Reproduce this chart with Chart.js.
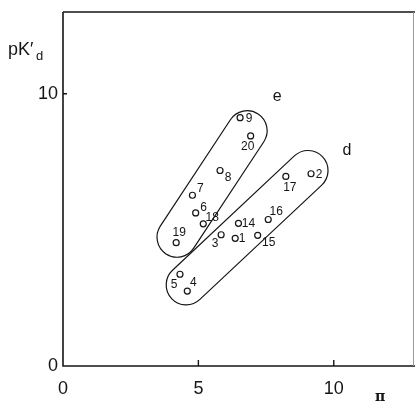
<!DOCTYPE html>
<html>
<head>
<meta charset="utf-8">
<script src="https://cdn.jsdelivr.net/npm/chart.js@4.4.0/dist/chart.umd.min.js"></script>
<style>
html, body { margin: 0; padding: 0; background: #fff; }
#wrap { width: 415px; height: 405px; }
</style>
</head>
<body>
<div id="wrap"><canvas id="c" width="415" height="405"></canvas></div>
<script>
// compound numbers and their (pi, pK'd) values
var compounds = ['1', '2', '3', '4', '5', '6', '7', '8', '9', '14', '15', '16', '17', '18', '19', '20'];
var piValues  = [6.36, 9.16, 5.84, 4.59, 4.32, 4.90, 4.78, 5.80, 6.54, 6.48, 7.19, 7.58, 8.23, 5.18, 4.18, 6.93];
var pkdValues = [4.69, 7.06, 4.82, 2.75, 3.37, 5.62, 6.27, 7.18, 9.12, 5.24, 4.80, 5.38, 6.96, 5.22, 4.53, 8.45];

// the two enclosed groups (capsule end centres, in data units)
var groupNames   = ['e', 'd'];
var groupStart   = [[4.21, 4.73], [4.55, 2.98]];
var groupEnd     = [[6.80, 8.64], [9.05, 7.18]];
var groupLabelAt = [[7.91, 9.88], [10.49, 7.91]];

var xTicks = [0, 5, 10];
var yTicks = [0, 10];

// where each number sits next to its circle (px)
var labelOffset = {
    '1': [7, 0], '2': [8, 1], '3': [-6, 9], '4': [6, -8], '5': [-6, 10],
    '6': [8, -5], '7': [8, -7], '8': [8, 7], '9': [9, 1], '14': [10, 0],
    '15': [11, 7], '16': [8, -8], '17': [4, 11], '18': [9, -6], '19': [3, -10],
    '20': [-3, 11]
};

var ink = '#151515';
var FONT = '"Liberation Sans", Arial, sans-serif';

var points = [];
for (var i = 0; i < compounds.length; i++) {
    points.push({ x: piValues[i], y: pkdValues[i] });
}

function capsule(ctx, ax, ay, bx, by, r) {
    var t = Math.atan2(by - ay, bx - ax);
    ctx.beginPath();
    ctx.arc(bx, by, r, t - Math.PI / 2, t + Math.PI / 2);
    ctx.arc(ax, ay, r, t + Math.PI / 2, t + 3 * Math.PI / 2);
    ctx.closePath();
    ctx.stroke();
}

function noPad(scale) {
    scale.paddingLeft = 0;
    scale.paddingRight = 0;
    scale.paddingTop = 0;
    scale.paddingBottom = 0;
}

var decor = {
    id: 'decor',
    beforeDatasetsDraw: function(chart) {
        var ctx = chart.ctx, a = chart.chartArea;
        var xs = chart.scales.x, ys = chart.scales.y;
        ctx.save();
        ctx.strokeStyle = ink;
        ctx.lineWidth = 1.6;
        // frame
        ctx.beginPath();
        ctx.moveTo(a.left, a.top);
        ctx.lineTo(a.left, a.bottom);
        ctx.lineTo(a.right, a.bottom);
        ctx.moveTo(a.left, a.top);
        ctx.lineTo(a.right, a.top);
        ctx.stroke();
        ctx.strokeStyle = '#999';
        ctx.lineWidth = 1;
        ctx.beginPath();
        ctx.moveTo(a.right - 1.5, a.top);
        ctx.lineTo(a.right - 1.5, a.bottom);
        ctx.stroke();
        // inward tick marks
        ctx.strokeStyle = ink;
        ctx.lineWidth = 1.4;
        ctx.beginPath();
        xTicks.forEach(function(v) {
            if (v === 0) return;
            var px = xs.getPixelForValue(v);
            ctx.moveTo(px, a.bottom);
            ctx.lineTo(px, a.bottom - 6);
        });
        yTicks.forEach(function(v) {
            if (v === 0) return;
            var py = ys.getPixelForValue(v);
            ctx.moveTo(a.left, py);
            ctx.lineTo(a.left + 4, py);
        });
        ctx.stroke();
        // group capsules
        ctx.lineWidth = 1.2;
        var radius = 20;
        for (var g = 0; g < groupNames.length; g++) {
            capsule(ctx,
                xs.getPixelForValue(groupStart[g][0]), ys.getPixelForValue(groupStart[g][1]),
                xs.getPixelForValue(groupEnd[g][0]), ys.getPixelForValue(groupEnd[g][1]),
                radius);
        }
        ctx.restore();
    },
    afterDatasetsDraw: function(chart) {
        var ctx = chart.ctx;
        var xs = chart.scales.x, ys = chart.scales.y;
        var meta = chart.getDatasetMeta(0);
        ctx.save();
        ctx.fillStyle = ink;
        ctx.textAlign = 'center';
        ctx.textBaseline = 'middle';
        ctx.font = '12px ' + FONT;
        meta.data.forEach(function(el, i) {
            var off = labelOffset[compounds[i]] || [8, 0];
            ctx.fillText(compounds[i], el.x + off[0], el.y + off[1]);
        });
        ctx.font = '16px ' + FONT;
        for (var g = 0; g < groupNames.length; g++) {
            ctx.fillText(groupNames[g],
                xs.getPixelForValue(groupLabelAt[g][0]), ys.getPixelForValue(groupLabelAt[g][1]));
        }
        ctx.restore();
    },
    afterDraw: function(chart) {
        var ctx = chart.ctx;
        ctx.save();
        ctx.fillStyle = ink;
        ctx.textBaseline = 'alphabetic';
        ctx.textAlign = 'left';
        // y axis title pK'd
        ctx.font = '18px ' + FONT;
        ctx.fillText('pK\u2032', 8, 55);
        ctx.font = '13px ' + FONT;
        ctx.fillText('d', 36, 60);
        // x axis title pi
        ctx.font = 'bold 14px "DejaVu Serif", serif';
        ctx.textAlign = 'center';
        ctx.fillText('\u03c0', 380, 401);
        ctx.restore();
    }
};

var ctx = document.getElementById('c').getContext('2d');
var myChart = new Chart(ctx, {
    type: 'scatter',
    data: {
        datasets: [{
            label: 'compounds',
            data: points,
            pointStyle: 'circle',
            pointRadius: 3,
            pointHoverRadius: 3,
            pointBorderWidth: 1.2,
            pointBorderColor: ink,
            pointBackgroundColor: '#fff'
        }]
    },
    options: {
        responsive: false,
        animation: false,
        events: [],
        layout: { autoPadding: false, padding: { top: 12, right: 0, left: 0, bottom: 0 } },
        plugins: {
            legend: { display: false },
            tooltip: { enabled: false }
        },
        scales: {
            x: {
                type: 'linear',
                min: 0,
                max: 13,
                afterBuildTicks: function(scale) {
                    scale.ticks = xTicks.map(function(v) { return { value: v }; });
                },
                afterFit: function(scale) { scale.height = 39; noPad(scale); },
                grid: { display: false, drawTicks: false },
                border: { display: false },
                ticks: { color: ink, padding: 12, maxRotation: 0, font: { size: 18, family: FONT } }
            },
            y: {
                type: 'linear',
                min: 0,
                max: 13,
                afterBuildTicks: function(scale) {
                    scale.ticks = yTicks.map(function(v) { return { value: v }; });
                },
                afterFit: function(scale) { scale.width = 63; noPad(scale); },
                grid: { display: false, drawTicks: false },
                border: { display: false },
                ticks: { color: ink, padding: 5, font: { size: 18, family: FONT } }
            }
        }
    },
    plugins: [decor]
});
</script>
</body>
</html>
